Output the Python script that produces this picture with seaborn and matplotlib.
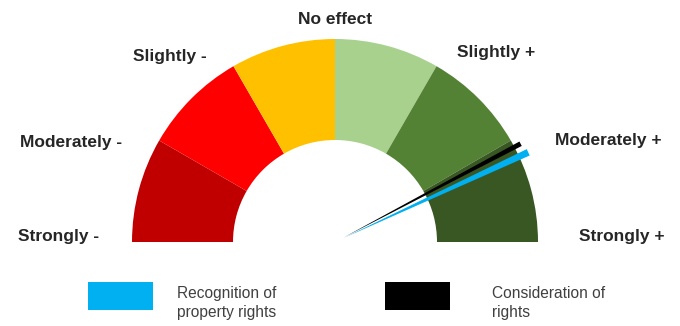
import numpy as np
import matplotlib
matplotlib.use("Agg")
import matplotlib.pyplot as plt
from matplotlib.patches import Wedge, Polygon, Rectangle
import seaborn as sns

# ---- data ----
scale_labels = ["Strongly -", "Moderately -", "Slightly -", "No effect",
                "Slightly +", "Moderately +", "Strongly +"]
scale_values = [-3, -2, -1, 0, 1, 2, 3]
segment_colors = ["#C00000", "#FF0000", "#FFC000", "#A9D18E", "#548235", "#385723"]
needle_names = ["Recognition of\nproperty rights", "Consideration of\nrights"]
needle_values = [2.17, 2.07]
needle_colors = ["#00B0F0", "#000000"]

sns.set_theme(style="white")
plt.rcParams["font.family"] = ["Liberation Sans", "DejaVu Sans"]

fig = plt.figure(figsize=(6.8, 3.26), dpi=100)
ax = fig.add_axes([0, 0, 1, 1])
ax.set_xlim(0, 680)
ax.set_ylim(0, 326)
ax.set_aspect("equal")
ax.axis("off")

cx, cy = 335, 326 - 242
r_out, r_in = 203, 102

def val2ang(v):
    return 90 - v * 30.0

for i, col in enumerate(segment_colors):
    a1 = val2ang(scale_values[i + 1])
    a2 = val2ang(scale_values[i])
    ax.add_patch(Wedge((cx, cy), r_out, a1, a2, width=r_out - r_in,
                       facecolor=col, edgecolor="none"))

# labels
label_pos = {
    "Strongly -": (59, 236), "Moderately -": (71, 143), "Slightly -": (170, 57),
    "No effect": (335, 20), "Slightly +": (496, 53), "Moderately +": (608, 141),
    "Strongly +": (622, 236),
}
for lab in scale_labels:
    x, y = label_pos[lab]
    ax.text(x, 326 - y, lab, ha="center", va="center", fontsize=12.5,
            fontweight="bold", color="#262626")

# needles
widths = [7.0, 5.0]
lengths = [213, 210]
for v, col, w, L in zip(needle_values, needle_colors, widths, lengths):
    a = np.deg2rad(val2ang(v))
    d = np.array([np.cos(a), np.sin(a)])
    p = np.array([-np.sin(a), np.cos(a)])
    c = np.array([cx, cy])
    base = c + d * 10
    tip = c + d * L
    pts = [base, tip + p * w / 2, tip - p * w / 2]
    ax.add_patch(Polygon(pts, closed=True, facecolor=col, edgecolor="none", zorder=3))

# legend
leg_rect_x = [88, 385]
leg_text_x = [177, 492]
for name, col, rx, tx in zip(needle_names, needle_colors, leg_rect_x, leg_text_x):
    ax.add_patch(Rectangle((rx, 326 - 310), 65, 28, facecolor=col, edgecolor="none"))
    ax.text(tx, 326 - 303, name, ha="left", va="center", fontsize=11.2,
            color="#404040", linespacing=1.35)

fig.savefig("out.png", dpi=100)
